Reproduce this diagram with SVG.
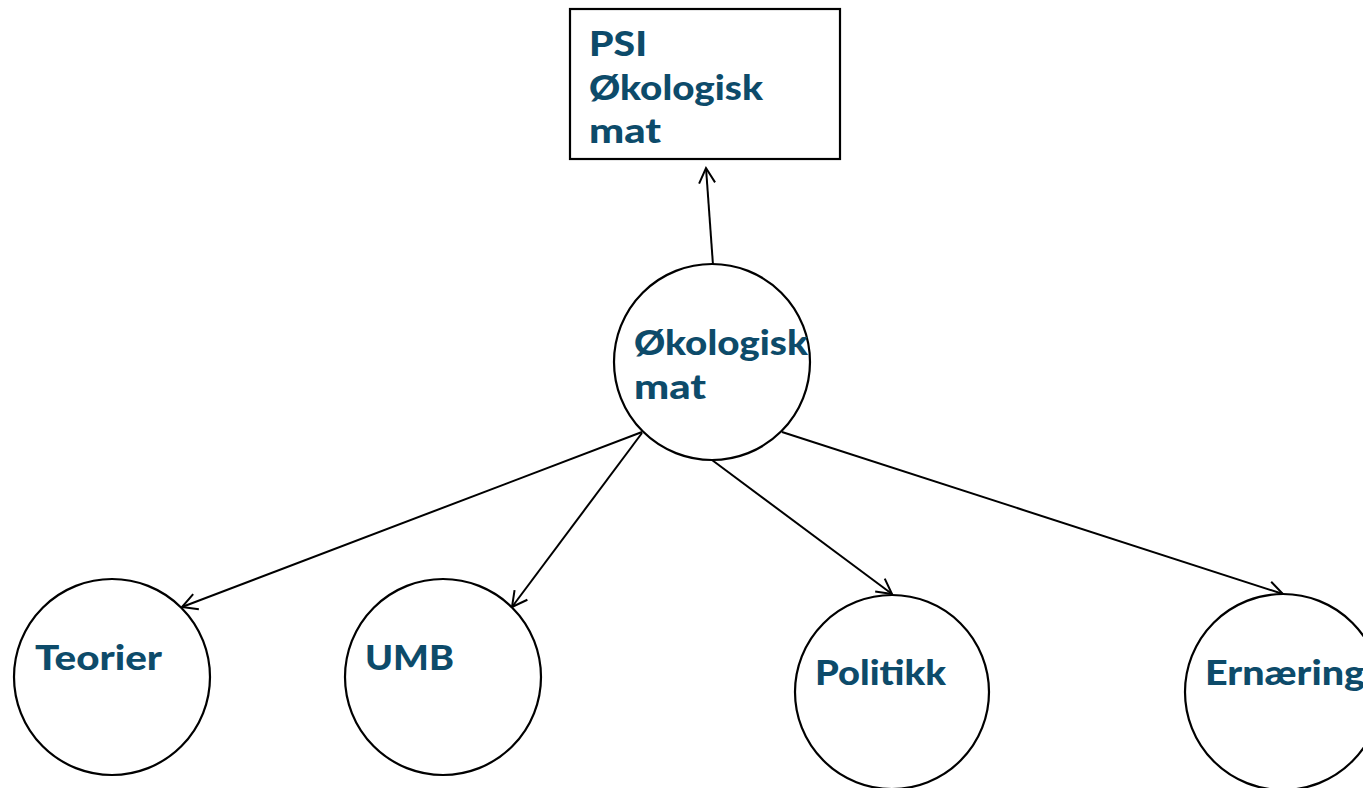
<svg xmlns="http://www.w3.org/2000/svg" width="1363" height="788" viewBox="0 0 1363 788">
<style>
.n{fill:#fff;stroke:#000;stroke-width:2.2}
.t{font-family:Lato,"Open Sans",sans-serif;font-weight:900;font-size:34px;fill:#0d4b6a}
.c{stroke:#000;stroke-width:2;fill:none}
</style>
<defs>
<marker id="a" markerUnits="userSpaceOnUse" markerWidth="20" markerHeight="20" refX="16" refY="9" orient="auto" viewBox="0 0 20 18">
<path d="M1,1 L16,9 L1,17" fill="none" stroke="#000" stroke-width="2"/>
</marker>
</defs>
<rect width="1363" height="788" fill="#fff"/>
<g id="connectors">
<line class="c" x1="713" y1="265" x2="706" y2="168" marker-end="url(#a)"/>
<line class="c" x1="642" y1="432" x2="182" y2="607" marker-end="url(#a)"/>
<line class="c" x1="642" y1="433" x2="512" y2="607" marker-end="url(#a)"/>
<line class="c" x1="712" y1="460" x2="892" y2="594" marker-end="url(#a)"/>
<line class="c" x1="782" y1="432" x2="1283" y2="594" marker-end="url(#a)"/>
</g>
<g id="psi">
<rect class="n" x="570" y="9" width="270" height="150"/>
<text class="t" x="589" y="56" textLength="58" lengthAdjust="spacingAndGlyphs">PSI</text>
<text class="t" x="589" y="100" textLength="174" lengthAdjust="spacingAndGlyphs">Økologisk</text>
<text class="t" x="589" y="143" textLength="72" lengthAdjust="spacingAndGlyphs">mat</text>
</g>
<g id="okologisk">
<circle class="n" cx="712" cy="362" r="98"/>
<text class="t" x="634" y="355" textLength="174" lengthAdjust="spacingAndGlyphs">Økologisk</text>
<text class="t" x="634" y="399" textLength="72" lengthAdjust="spacingAndGlyphs">mat</text>
</g>
<g id="teorier">
<circle class="n" cx="112" cy="677" r="98"/>
<text class="t" x="35" y="670" textLength="127" lengthAdjust="spacingAndGlyphs">Teorier</text>
</g>
<g id="umb">
<circle class="n" cx="443" cy="677" r="98"/>
<text class="t" x="365" y="670" textLength="89" lengthAdjust="spacingAndGlyphs">UMB</text>
</g>
<g id="politikk">
<circle class="n" cx="892" cy="692" r="97"/>
<text class="t" x="815" y="685" textLength="131" lengthAdjust="spacingAndGlyphs">Politikk</text>
</g>
<g id="ernaering">
<circle class="n" cx="1283" cy="692" r="98"/>
<text class="t" x="1205" y="685" textLength="160" lengthAdjust="spacingAndGlyphs">Ernæring</text>
</g>
</svg>
